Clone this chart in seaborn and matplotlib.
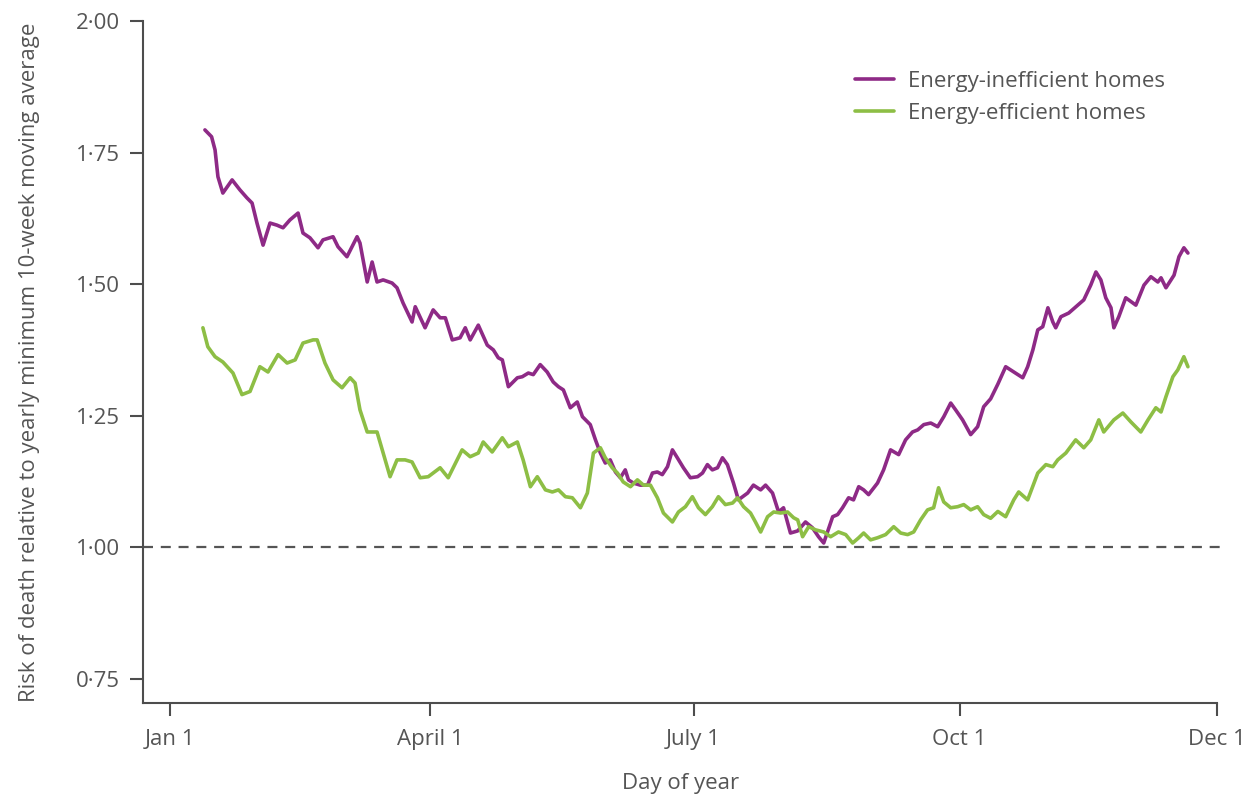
import matplotlib
matplotlib.use("Agg")
import matplotlib.pyplot as plt
from matplotlib.ticker import FixedLocator, FuncFormatter
import seaborn as sns
import pandas as pd

# Day of year and risk relative to the yearly minimum (10-week moving average)
inefficient_day = [
    13.1, 15.4, 16.6, 17.6, 19.3, 22.5, 25.2, 27.6, 29.4, 31.1, 33.2, 35.6, 38.0, 40.1,
    42.5, 45.3, 47.0, 49.4, 52.2, 53.9, 57.4, 59.1, 62.2, 65.7, 66.7, 69.2, 70.9, 72.6,
    74.7, 77.8, 79.5, 81.6, 84.7, 85.8, 89.2, 92.0, 94.4, 96.2, 98.6, 101.3, 103.1, 104.8,
    107.6, 110.7, 112.8, 114.5, 115.9, 118.0, 121.1, 122.8, 124.9, 126.6, 129.0, 131.4,
    133.5, 135.3, 137.0, 139.4, 141.8, 143.6, 146.3, 148.1, 149.8, 151.5, 153.2, 155.0,
    156.7, 158.4, 159.5, 161.2, 163.6, 166.1, 167.8, 169.5, 171.2, 173.0, 174.7, 176.4,
    178.5, 180.9, 183.4, 185.1, 186.8, 188.5, 190.3, 192.0, 193.7, 195.8, 197.5, 200.7,
    202.7, 205.2, 206.9, 209.3, 211.4, 213.1, 215.5, 218.0, 220.7, 223.1, 225.2, 227.0,
    228.3, 230.1, 231.8, 233.5, 235.6, 237.3, 239.1, 240.8, 242.5, 245.6, 247.7, 250.1,
    252.9, 255.3, 257.7, 259.5, 261.6, 264.0, 266.4, 268.5, 270.9, 272.6, 275.0, 277.8,
    280.2, 282.3, 284.7, 287.2, 289.9, 292.7, 295.8, 297.5, 299.3, 301.0, 302.7, 304.5,
    306.2, 307.2, 309.0, 311.7, 314.8, 316.9, 319.3, 321.1, 322.8, 324.5, 326.3, 327.3,
    329.0, 331.4, 334.9, 337.7, 340.1, 342.5, 343.6, 345.3, 348.1, 349.8, 351.5, 352.9,
]
inefficient_risk = [
    1.793, 1.780, 1.755, 1.704, 1.673, 1.698, 1.679, 1.664, 1.654, 1.616, 1.574, 1.616, 1.612, 1.607,
    1.622, 1.635, 1.597, 1.588, 1.569, 1.584, 1.590, 1.571, 1.552, 1.590, 1.578, 1.504, 1.542, 1.504,
    1.508, 1.502, 1.493, 1.464, 1.428, 1.457, 1.417, 1.451, 1.436, 1.436, 1.394, 1.398, 1.417, 1.394,
    1.422, 1.384, 1.375, 1.360, 1.356, 1.305, 1.322, 1.324, 1.331, 1.328, 1.347, 1.333,
    1.314, 1.305, 1.299, 1.265, 1.276, 1.248, 1.233, 1.204, 1.179, 1.160, 1.166, 1.143,
    1.132, 1.147, 1.128, 1.122, 1.118, 1.118, 1.141, 1.143, 1.138, 1.153, 1.185, 1.170,
    1.151, 1.132, 1.134, 1.141, 1.157, 1.147, 1.151, 1.170, 1.157, 1.122, 1.090, 1.103,
    1.118, 1.109, 1.118, 1.103, 1.067, 1.075, 1.027, 1.031, 1.048, 1.037, 1.020, 1.008,
    1.029, 1.058, 1.062, 1.075, 1.094, 1.090, 1.115, 1.109, 1.100, 1.122, 1.147, 1.185,
    1.176, 1.204, 1.219, 1.223, 1.233, 1.236, 1.229, 1.248, 1.274, 1.261, 1.242, 1.214,
    1.229, 1.267, 1.282, 1.310, 1.343, 1.333, 1.322, 1.343, 1.375, 1.413, 1.419, 1.455,
    1.428, 1.417, 1.438, 1.445, 1.460, 1.470, 1.498, 1.523, 1.508, 1.474, 1.455, 1.417,
    1.438, 1.474, 1.460, 1.498, 1.514, 1.504, 1.512, 1.493, 1.517, 1.552, 1.569, 1.559,
]

efficient_day = [
    12.4, 14.1, 16.6, 19.3, 22.8, 25.9, 28.7, 32.1, 34.9, 38.4, 41.5, 44.3, 47.0, 50.5,
    51.9, 54.6, 57.4, 60.5, 63.3, 65.0, 66.7, 69.2, 72.6, 74.7, 77.1, 79.5, 82.3, 84.7,
    87.5, 90.3, 94.4, 97.2, 102.0, 104.8, 107.6, 109.3, 112.4, 115.9, 118.0, 121.1, 123.1,
    125.6, 128.0, 130.8, 133.2, 135.3, 137.7, 140.1, 142.9, 145.3, 147.4, 149.8, 151.5,
    153.9, 155.7, 157.7, 160.2, 162.6, 164.7, 167.1, 169.5, 171.6, 174.7, 176.8, 179.2,
    181.6, 183.7, 186.1, 188.5, 190.6, 193.0, 195.5, 197.2, 199.3, 201.7, 203.4, 205.2,
    207.6, 209.7, 212.1, 214.5, 216.6, 218.0, 219.7, 221.8, 224.2, 227.0, 229.4, 232.1,
    234.6, 237.0, 239.1, 240.8, 243.2, 245.6, 248.4, 251.2, 253.6, 256.0, 258.1, 260.5,
    262.9, 265.0, 266.7, 268.5, 270.9, 273.3, 275.4, 277.8, 280.2, 282.3, 284.7, 287.2,
    289.9, 292.7, 294.4, 297.5, 301.0, 303.8, 306.2, 307.9, 310.7, 314.1, 316.9, 319.3,
    322.1, 323.8, 327.3, 330.4, 333.2, 336.6, 339.1, 341.8, 343.6, 345.3, 347.7, 349.4,
    351.5, 352.9,
]
efficient_risk = [
    1.417, 1.381, 1.362, 1.352, 1.331, 1.290, 1.296, 1.343, 1.333, 1.366, 1.350, 1.356, 1.388, 1.394,
    1.394, 1.350, 1.318, 1.303, 1.322, 1.312, 1.261, 1.219, 1.219, 1.179, 1.134, 1.166, 1.166, 1.162,
    1.132, 1.134, 1.151, 1.132, 1.185, 1.172, 1.179, 1.200, 1.181, 1.208, 1.191, 1.200, 1.166,
    1.115, 1.134, 1.109, 1.105, 1.109, 1.096, 1.094, 1.075, 1.103, 1.179, 1.189, 1.170,
    1.151, 1.141, 1.124, 1.115, 1.128, 1.118, 1.118, 1.094, 1.065, 1.048, 1.067, 1.077,
    1.096, 1.075, 1.062, 1.077, 1.096, 1.081, 1.084, 1.094, 1.077, 1.065, 1.048, 1.029,
    1.058, 1.067, 1.065, 1.067, 1.056, 1.052, 1.020, 1.039, 1.033, 1.029, 1.020, 1.029,
    1.024, 1.008, 1.018, 1.027, 1.014, 1.018, 1.024, 1.039, 1.027, 1.024, 1.029, 1.052,
    1.071, 1.075, 1.113, 1.086, 1.075, 1.077, 1.081, 1.071, 1.077, 1.062, 1.055, 1.068,
    1.058, 1.090, 1.105, 1.090, 1.141, 1.157, 1.153, 1.166, 1.179, 1.204, 1.189, 1.204,
    1.242, 1.219, 1.242, 1.255, 1.238, 1.219, 1.242, 1.265, 1.257, 1.286, 1.324, 1.337,
    1.362, 1.343,
]

series_names = ["Energy-inefficient homes", "Energy-efficient homes"]
series_colors = ["#8E2A86", "#8DBE45"]

tick_days = [1, 91, 182, 274, 363]
tick_labels = ["Jan 1", "April 1", "July 1", "Oct 1", "Dec 1"]
y_ticks = [0.75, 1.00, 1.25, 1.50, 1.75, 2.00]
reference_level = 1.0

df = pd.concat([
    pd.DataFrame({"day": inefficient_day, "risk": inefficient_risk, "group": series_names[0]}),
    pd.DataFrame({"day": efficient_day, "risk": efficient_risk, "group": series_names[1]}),
], ignore_index=True)

sns.set_style("ticks")
plt.rcParams["font.family"] = ["Open Sans", "DejaVu Sans"]
text_color = "#555555"
axis_color = "#4d4d4d"
font_size = 16

fig = plt.figure(figsize=(12.49, 7.94), dpi=100)
ax = fig.add_axes([0.1145, 0.1146, 0.86, 0.859])

ax.axhline(reference_level, xmax=1.005, color="#555555", lw=1.6, ls=(0, (4.5, 3.5)),
           zorder=1, clip_on=False)

sns.lineplot(data=df, x="day", y="risk", hue="group", hue_order=series_names,
             palette=series_colors, linewidth=2.6, sort=False, estimator=None,
             ax=ax, zorder=3)

ax.set_xlim(-8.3, 363)
ax.set_ylim(0.704, 2.0)
ax.xaxis.set_major_locator(FixedLocator(tick_days))
ax.set_xticklabels(tick_labels)
ax.yaxis.set_major_locator(FixedLocator(y_ticks))
ax.yaxis.set_major_formatter(FuncFormatter(lambda v, _: f"{v:.2f}".replace(".", "\u00b7")))

for side in ["top", "right"]:
    ax.spines[side].set_visible(False)
for side in ["left", "bottom"]:
    ax.spines[side].set_color(axis_color)
    ax.spines[side].set_linewidth(1.5)
ax.tick_params(axis="both", colors=axis_color, width=1.5, length=9.5,
               labelsize=font_size, labelcolor=text_color)
ax.tick_params(axis="x", pad=9)
ax.tick_params(axis="y", pad=7)

ax.set_xlabel("Day of year", fontsize=font_size, color=text_color, labelpad=17)
ax.set_ylabel("Risk of death relative to yearly minimum 10-week moving average",
              fontsize=font_size, color=text_color, labelpad=26)

leg = ax.legend(loc="upper left", bbox_to_anchor=(0.655, 0.94), frameon=False,
                fontsize=font_size, handlelength=1.75, handletextpad=0.6, labelspacing=0.5,
                borderaxespad=0)
for t in leg.get_texts():
    t.set_color(text_color)

fig.savefig("out.png", dpi=100)
